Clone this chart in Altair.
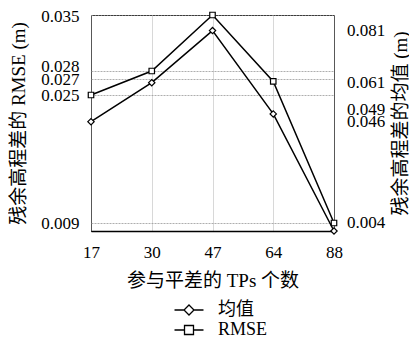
import altair as alt
import pandas as pd

tps = ["17", "30", "47", "64", "88"]
rmse = [0.025, 0.028, 0.035, 0.0267, 0.009]
mean_v = [0.046, 0.061, 0.081, 0.049, 0.004]
left_ticks = [0.009, 0.025, 0.027, 0.028, 0.035]
right_ticks = [0.004, 0.046, 0.049, 0.061, 0.081]
series = ["均值", "RMSE"]

df = pd.DataFrame({"tps": tps, "rmse": rmse, "mean": mean_v})
leg_df = pd.DataFrame({"s": series})

FONT = "Liberation Serif, Noto Sans CJK SC"

diamond_path = "M-2,0H-0.69M0.69,0H2M0,-0.69L0.69,0L0,0.69L-0.69,0Z"
square_path = "M-2,0H-0.62M0.62,0H2M-0.62,-0.62H0.62V0.62H-0.62Z"

x = alt.X(
    "tps:O", sort=tps, scale=alt.Scale(type="point", padding=0),
    axis=alt.Axis(title="参与平差的 TPs 个数", labelAngle=0, tickSize=0, ticks=False,
                  labelPadding=21, labelBaseline="middle", grid=True,
                  gridColor="#b0b0b0", gridDash=[1, 1], gridWidth=1,
                  domainColor="black", domainWidth=1.5,
                  titleY=49, titleBaseline="middle"),
)

yl = alt.Y(
    "rmse:Q", scale=alt.Scale(domain=[0.008, 0.035], nice=False, zero=False),
    axis=alt.Axis(orient="left", values=left_ticks, format=".3f",
                  title="残余高程差的 RMSE (m)", grid=True, gridColor="#999999",
                  gridDash=[2, 1], gridWidth=0.8, ticks=False, tickSize=0,
                  labelPadding=12, domain=False, labelOverlap=False, labelBound=False,
                  labelOffset={"condition": [
                      {"test": "datum.value == 0.028", "value": -4.5},
                      {"test": "datum.value == 0.035", "value": 1}], "value": 0},
                  titleX=-73, titleY=108, titleBaseline="middle"),
)

yr = alt.Y(
    "mean:Q", scale=alt.Scale(domain=[0.004, 0.087], nice=False, zero=False),
    axis=alt.Axis(orient="right", values=right_ticks, format=".3f",
                  title="残余高程差的均值 (m)", grid=False, ticks=False, tickSize=0,
                  labelPadding=12.5, domain=False, labelOverlap=False, labelBound=False,
                  labelOffset={"condition": [
                      {"test": "datum.value == 0.049", "value": -4.5},
                      {"test": "datum.value == 0.004", "value": -8.5}], "value": 0},
                  titleX=66, titleY=108, titleBaseline="middle", titleAngle=270),
)

left = alt.layer(
    alt.Chart(df).mark_line(color="black", strokeWidth=1.5).encode(x=x, y=yl),
    alt.Chart(df).mark_point(shape="square", size=30, filled=True, fill="white",
                             stroke="black", strokeWidth=1.2, opacity=1).encode(x=x, y=yl),
)
right = alt.layer(
    alt.Chart(df).mark_line(color="black", strokeWidth=1.5).encode(x=x, y=yr),
    alt.Chart(df).mark_point(shape="diamond", size=40, filled=True, fill="white",
                             stroke="black", strokeWidth=1.2, opacity=1).encode(x=x, y=yr),
)

leg = alt.Chart(leg_df).mark_point(filled=False, color="black", opacity=1).encode(
    shape=alt.Shape("s:N", scale=alt.Scale(domain=series, range=[diamond_path, square_path]),
                    legend=alt.Legend(title=None, orient="none", legendX=89, legendY=286,
                                      direction="vertical", symbolSize=210,
                                      symbolStrokeWidth=1.3, symbolStrokeColor="black",
                                      labelFont=FONT, labelFontSize=18, labelColor="black",
                                      rowPadding=2, labelOffset=20, padding=0)),
).transform_filter("false")

chart = alt.layer(left, right, leg).resolve_scale(y="independent").properties(
    width=243, height=216,
    autosize=alt.AutoSizeParams(type="none"),
    padding={"left": 83, "top": 7, "right": 75, "bottom": 107},
).configure_view(stroke="black", strokeWidth=1).configure_axis(
    labelFont=FONT, labelFontSize=17, labelColor="black",
    titleFont=FONT, titleFontSize=19, titleColor="black", titleFontWeight="normal",
)

chart.save("out.html", embed_options={"renderer": "svg", "actions": False})
